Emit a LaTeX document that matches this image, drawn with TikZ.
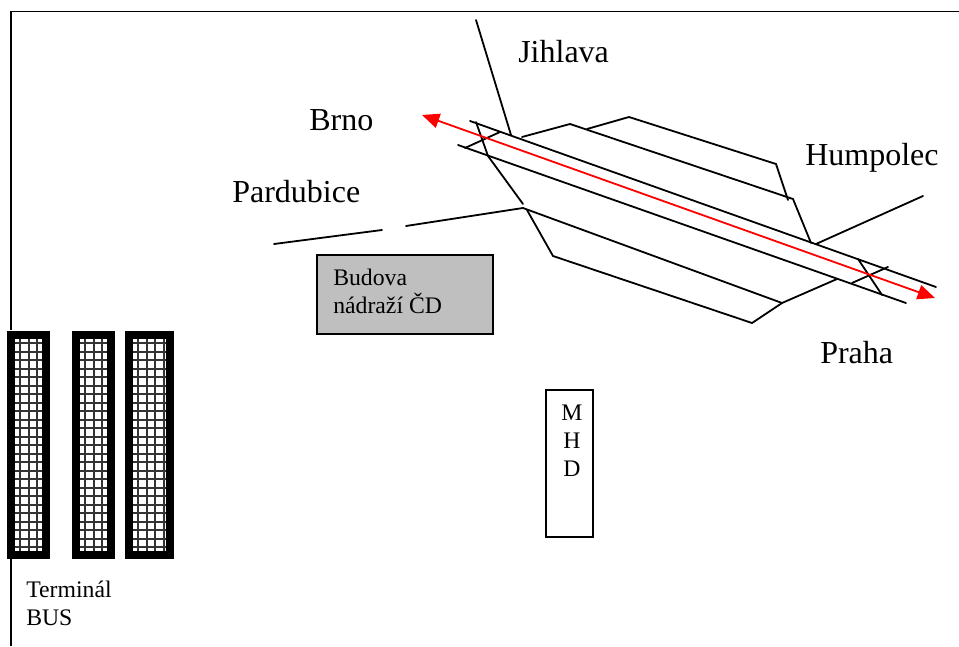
\documentclass[tikz,border=0pt]{standalone}
\usepackage{fontspec}
\setmainfont{Liberation Serif}
\usetikzlibrary{arrows.meta}

\begin{document}
\begin{tikzpicture}[x=0.75pt, y=-0.75pt,
        track/.style={line width=1.35pt, black, line cap=round},
        frame/.style={line width=1.35pt, black},
        place/.style={anchor=base west, inner sep=0pt, font=\fontsize{24}{24}\selectfont},
        small/.style={anchor=north west, inner sep=0pt, align=left, font=\fontsize{17.8}{21}\selectfont},
        station/.style={rectangle, draw=black, line width=1.35pt, fill=black!25,
                    minimum width=132pt, minimum height=59pt},
        mhd/.style={rectangle, draw=black, line width=1.1pt, fill=white,
                    minimum width=35.5pt, minimum height=110pt, inner sep=0pt},
        baywall/.style={line width=6pt, black},
        baygrid/.style={line width=1.5pt, black!80},
      ]
        \useasboundingbox (0,0) rectangle (959,646);

        % outer frame, broken by the bus bays
        \draw[frame] (11,330) -- (11,11.5) -- (959,11.5);
        \draw[frame, line width=0.9pt] (11,559) -- (11,646);

        % tracks
        \draw[track] (470,121) -- (936,287);
        \draw[track] (458,145) -- (906,303);
        \draw[track] (476,122) -- (488,156) -- (523,204);
        \draw[track] (465,148) -- (500,132);
        \draw[track] (858,259) -- (882,295);
        \draw[track] (837,279) -- (782,303) -- (752,323) -- (553,256) -- (527,210);
        \draw[track] (852,283) -- (888,267);
        \draw[track] (523,208) -- (782,303);

        % upper sidings
        \draw[track] (522,137) -- (570,124) -- (793,199) -- (811,243);
        \draw[track] (587,129) -- (629,117) -- (776,164) -- (788,200);

        % roads
        \draw[track] (476,20) -- (511,135);
        \draw[track] (274,244) -- (382,230);
        \draw[track] (406,226) -- (523,208);
        \draw[track] (816,244) -- (923,196);

        % direction of travel
        \draw[{Triangle[length=13pt, width=11pt]}-{Triangle[length=13pt, width=11pt]}, red, line width=1.35pt] (422,115) -- (935,298);

        % bus bays
        \foreach \bx/\bw in {7/43, 72/43, 125/49} {
          \begin{scope}
            \clip (\bx+4,335) rectangle (\bx+\bw-4,555);
            \foreach \gy in {343,351.5,...,552} {
              \draw[baygrid] (\bx,\gy) -- (\bx+\bw,\gy);
            }
            \foreach \gx in {13,21.5,30,38.5} {
              \draw[baygrid] (\bx+\gx,335) -- (\bx+\gx,555);
            }
          \end{scope}
          \draw[baywall] (\bx+4,335) rectangle (\bx+\bw-4,555);
        }

        \node[station] (budova) at (405,294.5) {};
        \node[small] (budovatext) at (333,269) {Budova\\nádraží ČD};
        \node[mhd] (linka) at (569.5,463.5) {};
        \node[inner sep=0pt, align=center, font=\fontsize{17.8}{21}\selectfont] (mhdtext) at (572,441) {M\\H\\D};

        \node[place] (jihlava) at (518,62) {Jihlava};
        \node[place] (brno) at (309,130) {Brno};
        \node[place] (pardubice) at (232,202) {Pardubice};
        \node[place] (humpolec) at (805,165) {Humpolec};
        \node[place] (praha) at (820,363) {Praha};
        \node[small] (terminal) at (26,581) {Terminál\\BUS};
      \end{tikzpicture}
\end{document}
